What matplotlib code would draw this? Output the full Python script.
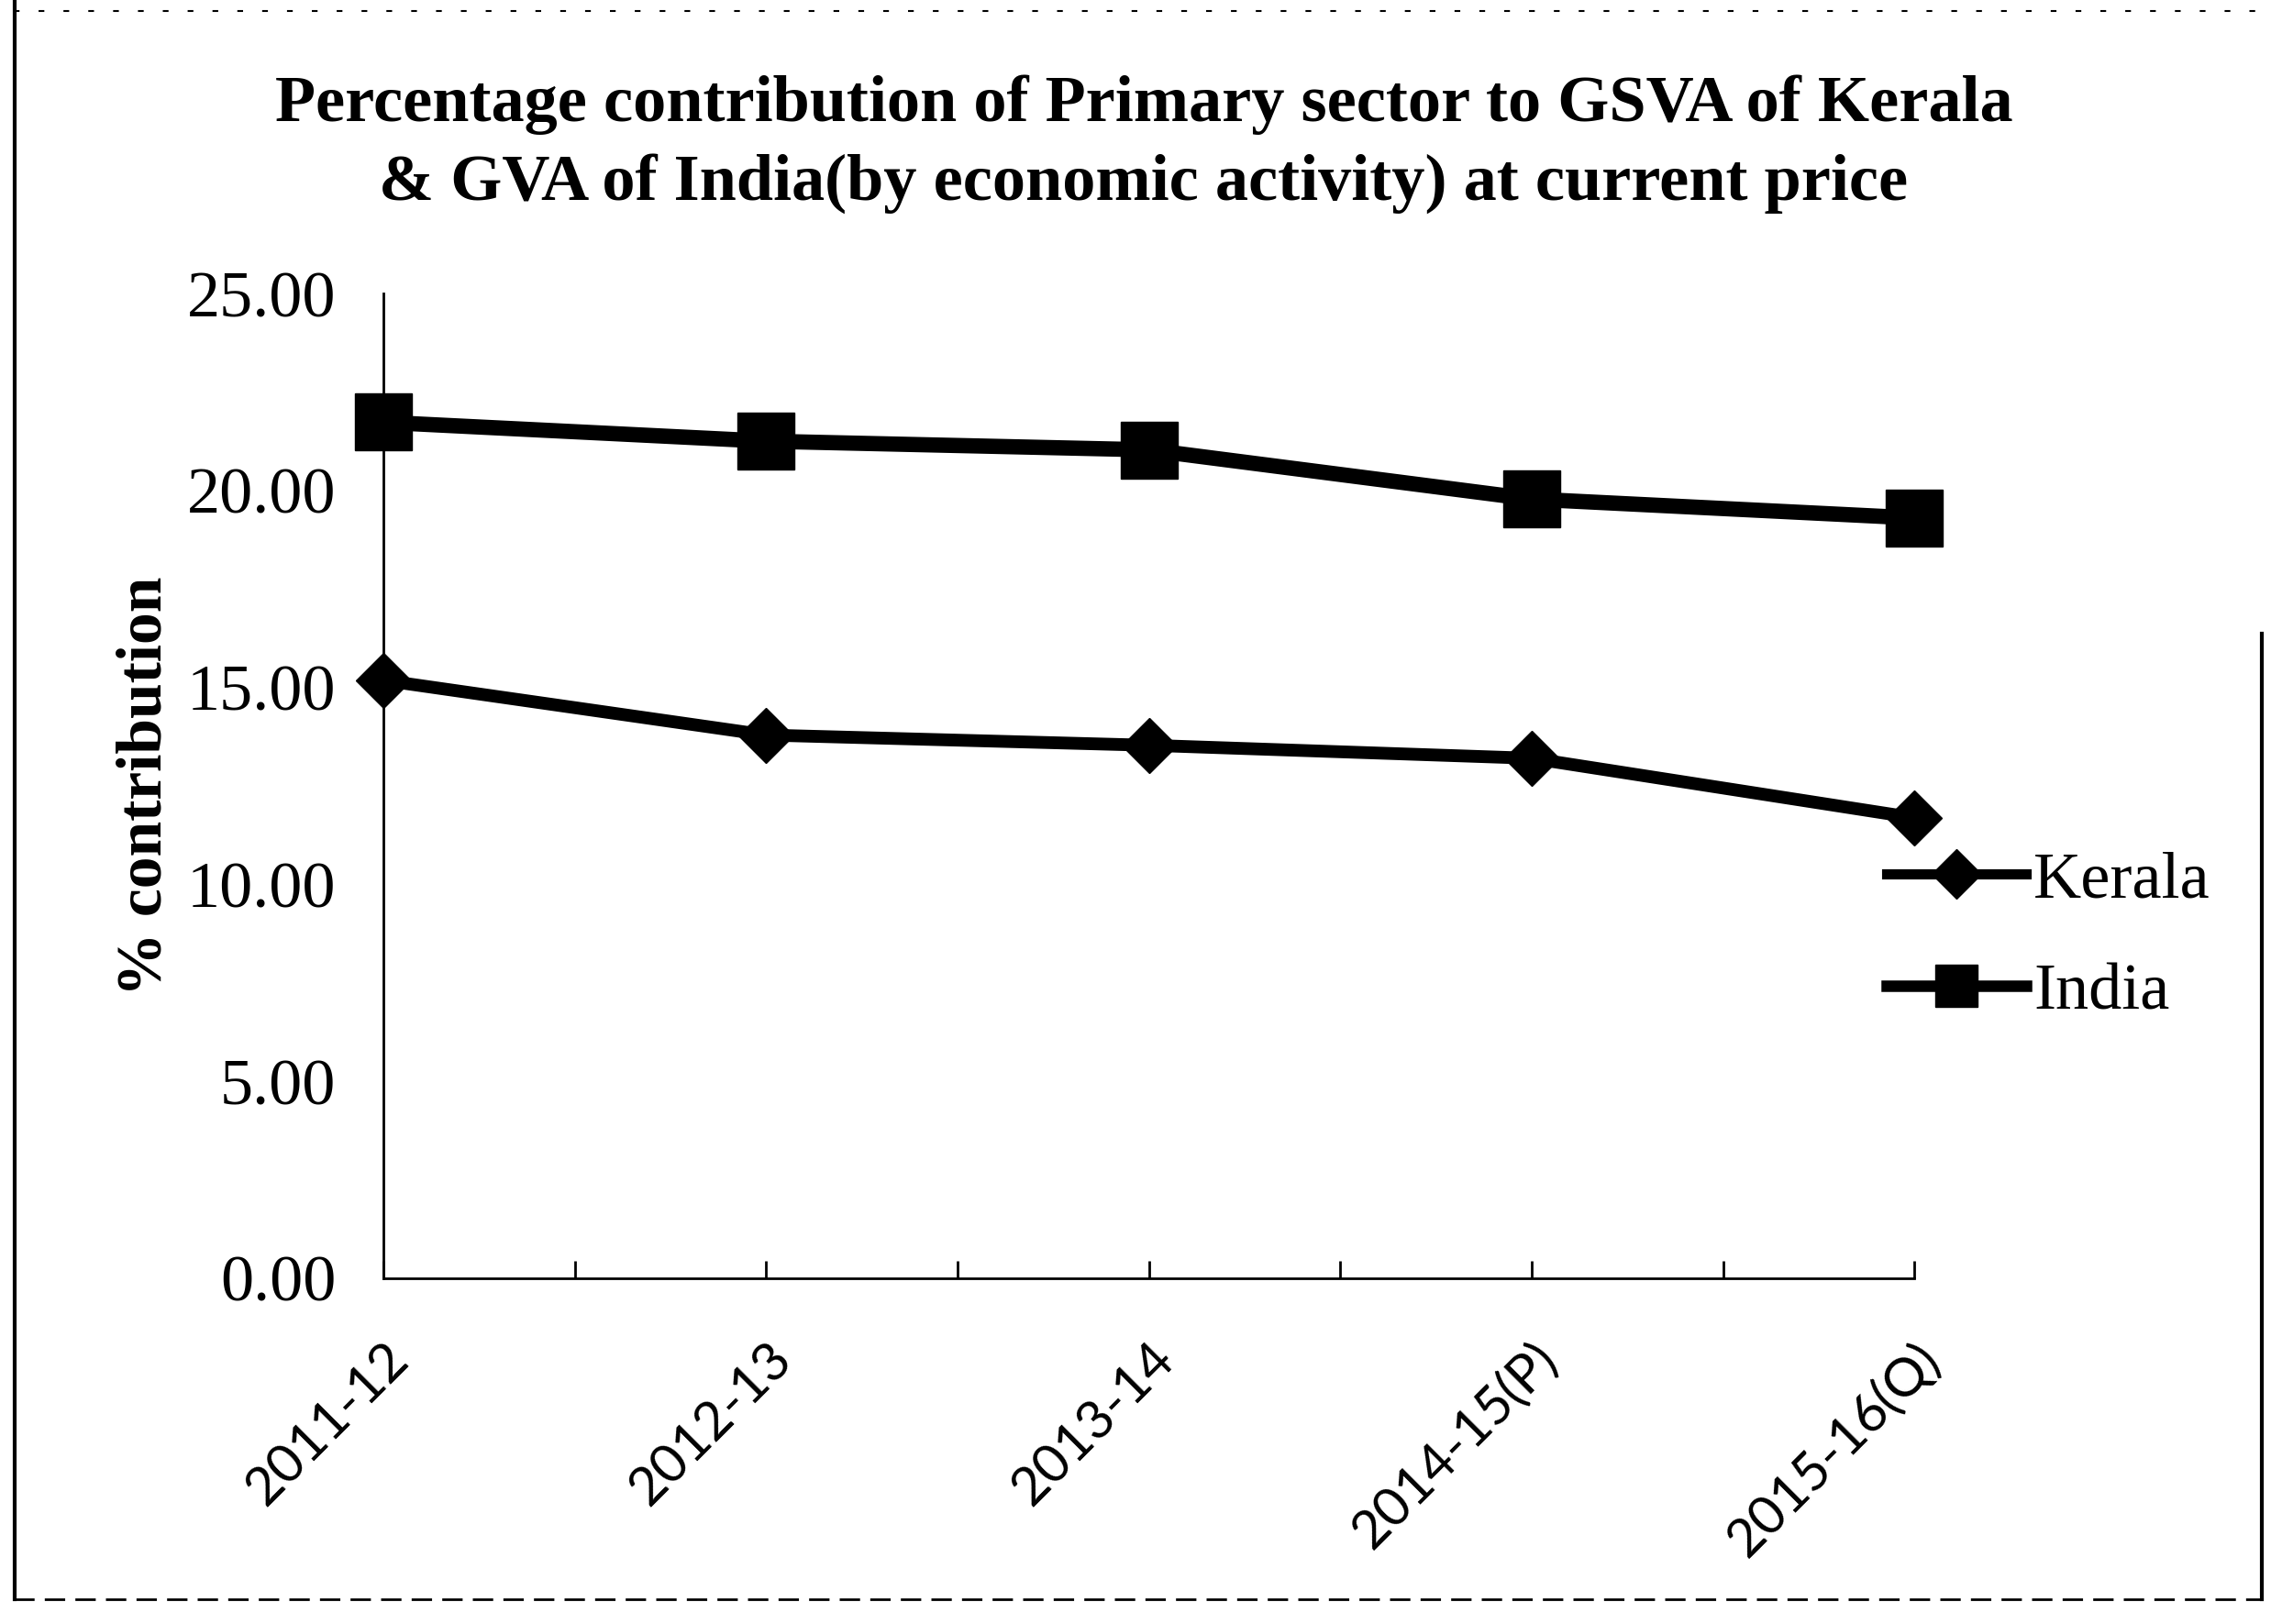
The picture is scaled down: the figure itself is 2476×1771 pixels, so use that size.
import matplotlib.pyplot as plt
from matplotlib.lines import Line2D

years = ["2011-12", "2012-13", "2013-14", "2014-15(P)", "2015-16(Q)"]
kerala = [15.18, 13.79, 13.53, 13.20, 11.69]
india = [21.73, 21.25, 21.03, 19.78, 19.30]
y_ticks = [0, 5, 10, 15, 20, 25]

serif = "Liberation Serif"

fig = plt.figure(figsize=(24.76, 17.71), dpi=100)
ax = fig.add_axes([0.1688, 0.2129, 0.843 - 0.1688, 0.8193 - 0.2129])

x = list(range(len(years)))
ax.plot(x, kerala, color="black", linewidth=10, marker="D", markersize=31,
        clip_on=False, zorder=3)
ax.plot(x, india, color="black", linewidth=12, marker="s", markersize=44,
        clip_on=False, zorder=3)

ax.set_xlim(0, 4)
ax.set_ylim(0, 25)
ax.set_yticks(y_ticks)
ax.set_yticklabels([f"{v:.2f}" for v in y_ticks], fontfamily=serif, fontsize=52)
ax.tick_params(axis="y", length=0, pad=37)

ax.set_xticks(x)
ax.set_xticks([0.5, 1.5, 2.5, 3.5], minor=True)
ax.set_xticklabels(years, rotation=45, ha="right", va="top",
                   rotation_mode="anchor", fontfamily="Lato", fontsize=42)
ax.tick_params(axis="x", which="both", direction="in", length=14, width=2, pad=44)

for side in ["top", "right"]:
    ax.spines[side].set_visible(False)
for side in ["left", "bottom"]:
    ax.spines[side].set_linewidth(2)

ax.set_ylabel("% contribution", fontfamily=serif, fontweight="bold", fontsize=50, labelpad=10)

fig.text(0.5036, 0.9113, "Percentage contribution of Primary sector to GSVA of Kerala\n"
         "& GVA of India(by economic activity) at current price",
         ha="center", va="center", fontfamily=serif, fontweight="bold",
         fontsize=52, linespacing=1.4)

# legend keys are drawn a little smaller than the data markers
handles = [Line2D([], [], color="black", linewidth=8, marker="D", markersize=27),
           Line2D([], [], color="black", linewidth=9, marker="s", markersize=33)]
ax.legend(handles, ["Kerala", "India"], loc="upper left",
          bbox_to_anchor=(2057 / 2476, 1 - 928 / 1771),
          bbox_transform=fig.transFigure, frameon=False, borderpad=0,
          borderaxespad=0, handlelength=2.1, handletextpad=0.12,
          labelspacing=0.78, prop={"family": serif, "size": 52})

# scanned page frame
fig.add_artist(Line2D([16 / 2476, 16 / 2476], [0.015, 1.0], color="black", linewidth=3))
fig.add_artist(Line2D([2466 / 2476, 2466 / 2476], [0.015, 0.61], color="black", linewidth=3))
fig.add_artist(Line2D([0.006, 0.995], [0.015, 0.015], color="black", linewidth=2, linestyle=(0, (8, 4))))
fig.add_artist(Line2D([0.006, 0.995], [0.993, 0.993], color="black", linewidth=1.5, linestyle=(0, (3, 10))))

fig.savefig("out.png", dpi=100)
